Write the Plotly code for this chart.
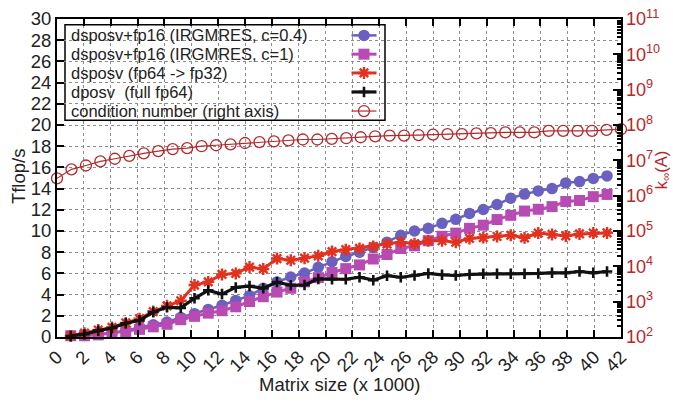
import plotly.graph_objects as go

# ---------------- data ----------------
matrix_size = [1.024, 2.048, 3.072, 4.096, 5.12, 6.144, 7.168, 8.192, 9.216, 10.24,
               11.264, 12.288, 13.312, 14.336, 15.36, 16.384, 17.408, 18.432, 19.456, 20.48,
               21.504, 22.528, 23.552, 24.576, 25.6, 26.624, 27.648, 28.672, 29.696, 30.72,
               31.744, 32.768, 33.792, 34.816, 35.84, 36.864, 37.888, 38.912, 39.936, 40.96]

irgmres_c04 = [0.12, 0.15, 0.25, 0.4, 0.6, 0.9, 1.15, 1.42, 1.85, 2.2,
               2.6, 3.0, 3.45, 3.9, 4.6, 5.2, 5.66, 6.03, 6.57, 7.1,
               7.6, 8.0, 8.45, 8.95, 9.6, 10.0, 10.25, 10.72, 11.1, 11.65,
               12.03, 12.5, 13.09, 13.48, 13.78, 14.0, 14.54, 14.66, 14.96, 15.2]

irgmres_c1 = [0.12, 0.12, 0.2, 0.36, 0.5, 0.72, 0.96, 1.2, 1.63, 1.95,
              2.25, 2.48, 2.85, 3.35, 3.8, 4.24, 4.6, 5.2, 5.6, 6.08,
              6.45, 6.8, 7.36, 7.78, 8.35, 8.6, 9.08, 9.5, 9.8, 10.25,
              10.55, 11.08, 11.48, 11.88, 12.05, 12.3, 12.78, 12.88, 13.24, 13.45]

dsposv_fp32 = [0.1, 0.36, 0.66, 0.9, 1.33, 1.73, 2.4, 2.94, 3.42, 4.9,
               5.2, 5.9, 6.0, 6.6, 6.42, 7.4, 7.24, 7.44, 7.66, 8.06,
               8.24, 8.36, 8.54, 8.76, 8.95, 8.8, 9.08, 9.08, 8.94, 9.3,
               9.38, 9.48, 9.6, 9.36, 9.8, 9.68, 9.54, 9.72, 9.8, 9.82]

dposv_fp64 = [0.1, 0.27, 0.6, 0.85, 1.3, 1.57, 2.35, 2.8, 2.75, 3.65,
              4.4, 4.05, 4.68, 4.8, 4.6, 5.18, 4.88, 4.9, 5.48, 5.45,
              5.45, 5.64, 5.36, 5.78, 5.64, 5.8, 6.0, 5.87, 5.8, 5.9,
              5.96, 5.96, 5.96, 5.96, 6.0, 6.05, 6.05, 6.18, 6.05, 6.18]

cond_x = [0.0, 1.077, 2.154, 3.231, 4.308, 5.385, 6.462, 7.538, 8.615, 9.692,
          10.769, 11.846, 12.923, 14.0, 15.077, 16.154, 17.231, 18.308, 19.385, 20.462,
          21.538, 22.615, 23.692, 24.769, 25.846, 26.923, 28.0, 29.077, 30.154, 31.231,
          32.308, 33.385, 34.462, 35.538, 36.615, 37.692, 38.769, 39.846, 40.923, 42.0]

cond_number = [3.09e6, 5.56e6, 7.14e6, 9.33e6, 1.11e7, 1.34e7, 1.58e7, 1.83e7, 2.08e7, 2.21e7,
               2.51e7, 2.67e7, 2.84e7, 3.09e7, 3.29e7, 3.44e7, 3.66e7, 3.89e7, 3.89e7, 4.05e7,
               4.23e7, 4.5e7, 4.79e7, 5.01e7, 5.01e7, 5.2e7, 5.33e7, 5.53e7, 5.53e7, 5.78e7,
               5.89e7, 6.17e7, 6.17e7, 6.17e7, 6.85e7, 6.85e7, 6.85e7, 6.85e7, 7.29e7, 7.59e7]

x_ticks = [0, 2, 4, 6, 8, 10, 12, 14, 16, 18, 20, 22, 24, 26, 28, 30, 32, 34, 36, 38, 40, 42]
y_ticks = [0, 2, 4, 6, 8, 10, 12, 14, 16, 18, 20, 22, 24, 26, 28, 30]

legend_labels = ["dsposv+fp16 (IRGMRES, c=0.4)",
                 "dsposv+fp16 (IRGMRES, c=1)",
                 "dsposv (fp64 -> fp32)",
                 "dposv  (full fp64)",
                 "condition number (right axis)"]

# ---------------- styles ----------------
PURPLE = "#6a60bf"
MAGENTA = "#b84ab4"
RED = "#e2321f"
BLACK = "#111111"
DARKRED = "#b5282b"
TEXT = "#222222"
FONT = "Liberation Sans, Arial, Helvetica, sans-serif"

styles = [
    dict(line=dict(color=PURPLE, width=2.5), marker=dict(symbol="circle", size=11.5, color=PURPLE)),
    dict(line=dict(color=MAGENTA, width=3), marker=dict(symbol="square", size=11, color=MAGENTA)),
    dict(line=dict(color=RED, width=3), marker=dict(symbol="asterisk-open", size=10, color=RED,
                                                     line=dict(color=RED, width=2.4))),
    dict(line=dict(color=BLACK, width=3.2), marker=dict(symbol="cross-thin-open", size=7.5, color=BLACK,
                                                         line=dict(color=BLACK, width=2.6))),
    dict(line=dict(color=DARKRED, width=1.2), marker=dict(symbol="circle-open", size=11, color=DARKRED,
                                                           line=dict(color=DARKRED, width=1.3))),
]

series = [irgmres_c04, irgmres_c1, dsposv_fp32, dposv_fp64]

fig = go.Figure()
for vals, st in zip(series, styles[:4]):
    fig.add_trace(go.Scatter(x=matrix_size, y=vals, mode="lines+markers",
                             line=st["line"], marker=st["marker"], cliponaxis=False,
                             hoverinfo="skip"))

fig.add_trace(go.Scatter(x=cond_x, y=cond_number, yaxis="y2", mode="lines+markers",
                         line=styles[4]["line"], marker=styles[4]["marker"], cliponaxis=False,
                         hoverinfo="skip"))

# ---------------- custom (gnuplot-like) legend ----------------
L_PX, R_PX, T_PX, B_PX = 57, 621, 7, 337
W, H = R_PX - L_PX, B_PX - T_PX


def px_x(p):
    return (p - L_PX) / W


def px_y(p):
    return (B_PX - p) / H


row_py = [24, 43.5, 63, 82.7, 102.5]
sample_x0, sample_x1, sample_xm = px_x(351.5), px_x(376.5), px_x(364)

for label, st, py in zip(legend_labels, styles, row_py):
    yy = px_y(py)
    fig.add_trace(go.Scatter(x=[sample_x0, sample_x1], y=[yy, yy], mode="lines",
                             line=st["line"], xaxis="x3", yaxis="y3", hoverinfo="skip"))
    fig.add_trace(go.Scatter(x=[sample_xm], y=[yy], mode="markers",
                             marker=st["marker"], xaxis="x3", yaxis="y3", hoverinfo="skip"))
    fig.add_annotation(x=px_x(69), y=yy, xref="paper", yref="paper", text=label,
                       showarrow=False, xanchor="left", yanchor="middle",
                       font=dict(size=16.5, color=TEXT, family=FONT))

fig.add_shape(type="rect", xref="paper", yref="paper",
              x0=px_x(65), x1=px_x(385), y0=px_y(112), y1=px_y(13),
              line=dict(color="black", width=1.5), fillcolor="white", layer="between")

# ---------------- axis titles ----------------
fig.add_annotation(x=0.5, y=px_y(386), xref="paper", yref="paper", text="Matrix size (x 1000)",
                   showarrow=False, xanchor="center", yanchor="middle",
                   font=dict(size=18.5, color=TEXT, family=FONT))
fig.add_annotation(x=px_x(18), y=px_y(170), xref="paper", yref="paper", text="Tflop/s",
                   showarrow=False, textangle=-90, xanchor="center", yanchor="middle",
                   font=dict(size=18.5, color=TEXT, family=FONT))
fig.add_annotation(x=px_x(662), y=px_y(164), xref="paper", yref="paper",
                   text="k<sub>∞</sub>(A)",
                   showarrow=False, textangle=-90, xanchor="center", yanchor="middle",
                   font=dict(size=16.5, color=DARKRED, family=FONT))

grid = dict(showgrid=True, gridcolor="#8c8c8c", griddash="dot", gridwidth=1)

fig.update_layout(
    width=673, height=408,
    margin=dict(l=L_PX, r=673 - R_PX, t=T_PX, b=408 - B_PX, pad=0),
    plot_bgcolor="white", paper_bgcolor="white",
    showlegend=False,
    font=dict(family=FONT, color=TEXT),
    xaxis=dict(range=[0, 42], tickvals=x_ticks, ticktext=[str(v) for v in x_ticks],
               ticks="inside", ticklen=7, tickwidth=1.5, tickcolor="black",
               showline=True, linecolor="black", linewidth=2, mirror="ticks",
               tickangle=-45, tickfont=dict(size=18.5, color=TEXT), zeroline=False,
               ticklabeloverflow="allow", **grid),
    yaxis=dict(range=[0, 30], tickvals=y_ticks, ticktext=[str(v) for v in y_ticks],
               ticks="inside", ticklen=7, tickwidth=1.5, tickcolor="black",
               showline=True, linecolor="black", linewidth=2,
               tickfont=dict(size=18.5, color=TEXT), zeroline=False,
               ticklabeloverflow="allow", **grid),
    yaxis2=dict(overlaying="y", side="right", type="log", range=[2, 11], dtick=1,
                exponentformat="power", showexponent="all",
                ticks="inside", ticklen=8, tickwidth=1.5, tickcolor="black",
                showline=True, linecolor="black", linewidth=2, showgrid=False, zeroline=False,
                tickfont=dict(size=14.5, color=DARKRED), ticklabeloverflow="allow",
                minor=dict(ticks="inside", ticklen=4, tickcolor="black", showgrid=False)),
    xaxis3=dict(overlaying="x", range=[0, 1], visible=False, fixedrange=True),
    yaxis3=dict(overlaying="y", range=[0, 1], visible=False, fixedrange=True),
)

fig.write_html("out.html", config={"displayModeBar": False},
               post_script="document.body.style.margin='0';document.body.style.overflow='hidden';")
